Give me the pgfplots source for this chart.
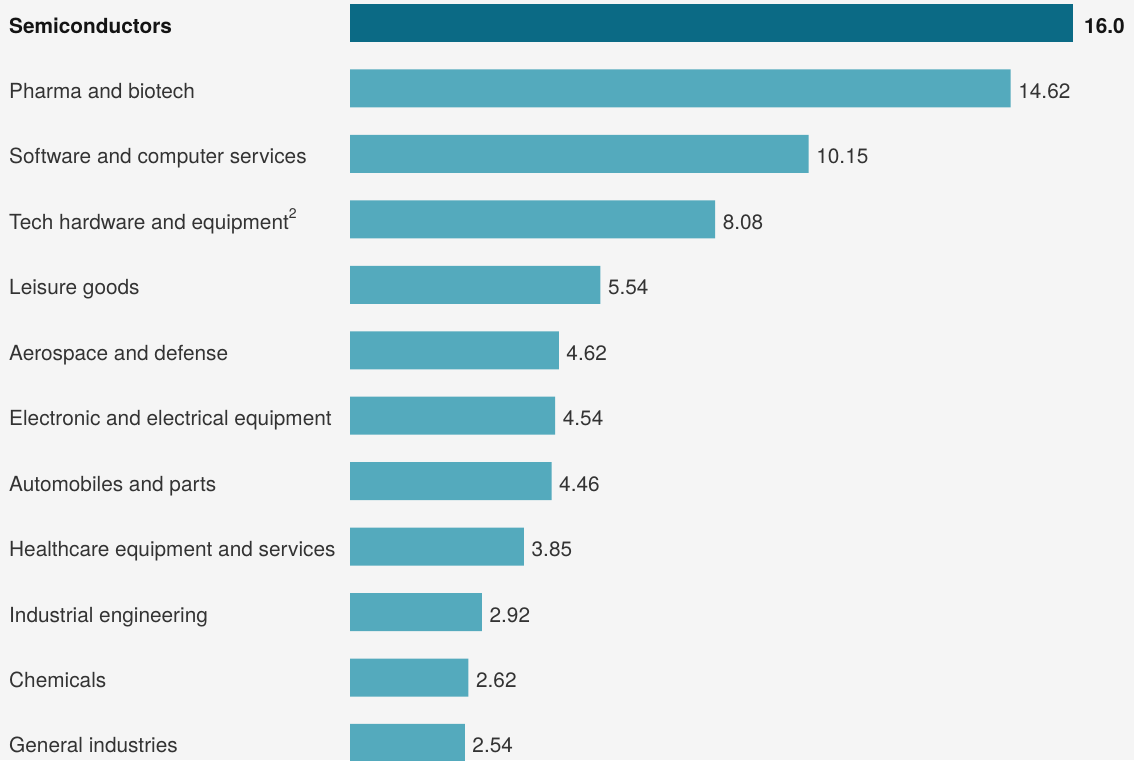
\documentclass[border=0pt]{standalone}
\usepackage{pgfplots}
\pgfplotsset{compat=1.18}
\usepackage{fontspec}
\setmainfont{TeX Gyre Heros}
\definecolor{bg}{HTML}{F5F5F5}
\definecolor{darkbar}{HTML}{0B6A85}
\definecolor{lightbar}{HTML}{54AABD}
\definecolor{txt}{HTML}{333333}
\definecolor{txtb}{HTML}{141414}
\newcommand{\lblfont}{\fontsize{20.8}{24}\selectfont}
\begin{document}
\begin{tikzpicture}
\useasboundingbox (0,0) rectangle (1134pt,760pt);
\clip (0,0) rectangle (1134pt,760pt);
\fill[bg] (0,0) rectangle (1134pt,760pt);
\begin{axis}[
  at={(350pt,0pt)}, anchor=south west, scale only axis,
  width=723pt, height=760pt,
  xmin=0, xmax=16, ymin=-0.3514, ymax=11.26, y dir=reverse,
  xbar, bar width=38pt, bar shift=0pt,
  axis line style={draw=none}, tick style={draw=none}, major tick length=0pt,
  xtick=\empty, ytick={0,...,11},
  yticklabels={{\textbf{\color{txtb}Semiconductors}},
    Pharma and biotech, Software and computer services,
    {Tech hardware and equipment\raisebox{0.5em}{\fontsize{14}{14}\selectfont 2}},
    Leisure goods, Aerospace and defense,
    Electronic and electrical equipment, Automobiles and parts,
    Healthcare equipment and services, Industrial engineering,
    Chemicals, General industries},
  yticklabel style={anchor=base west, inner sep=0pt, xshift=-341pt, yshift=-10pt, font=\lblfont, text=txt},
  /pgf/number format/assume math mode=true,
  point meta=x,
  nodes near coords style={anchor=base west, inner sep=0pt, xshift=7.5pt, yshift=-10pt, font=\lblfont, text=txt},
  clip=false,
]
\addplot[fill=darkbar, draw=none,
  nodes near coords={\textbf{\pgfmathprintnumber[fixed,zerofill,precision=1]{\pgfplotspointmeta}}},
  nodes near coords style={text=txtb, xshift=3.5pt}]
  coordinates {(16.0,0)};
\addplot[fill=lightbar, draw=none,
  nodes near coords={\pgfmathprintnumber[fixed,zerofill,precision=2]{\pgfplotspointmeta}}]
  coordinates {(14.62,1) (10.15,2) (8.08,3) (5.54,4) (4.62,5) (4.54,6)
               (4.46,7) (3.85,8) (2.92,9) (2.62,10) (2.54,11)};
\end{axis}
\end{tikzpicture}
\end{document}
